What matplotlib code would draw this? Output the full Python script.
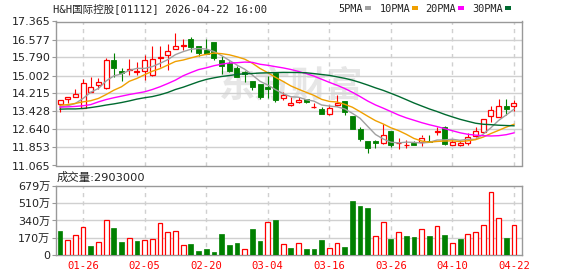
import matplotlib
matplotlib.use('Agg')
import matplotlib.pyplot as plt
from matplotlib.patches import Rectangle
import numpy as np

# ---------------- data ----------------
title = "H&H国际控股[01112] 2026-04-22 16:00"
opens = [13.76, 13.99, 14.05, 13.56, 14.29, 14.58, 14.46, 15.67, 15.19, 15.24,
         15.17, 15.21, 15.02, 15.75, 15.88, 16.16, 16.31, 16.58, 16.30, 16.11,
         16.45, 15.70, 15.57, 15.31, 15.16, 14.78, 14.65, 14.51, 15.13, 14.00,
         13.71, 13.85, 13.99, 13.62, 13.53, 13.31, 13.71, 13.87, 13.22, 12.64,
         12.14, 12.14, 12.04, 12.58, 12.06, 11.97, 12.03, 12.10, 12.13, 12.55,
         12.76, 11.96, 11.98, 12.03, 12.36, 12.54, 13.22, 13.19, 13.67, 13.68]
highs = [13.95, 14.07, 14.43, 14.87, 14.94, 14.90, 15.78, 15.99, 15.35, 15.72,
         15.60, 15.89, 16.30, 16.30, 16.40, 16.84, 16.59, 16.67, 16.30, 16.58,
         16.45, 15.85, 15.63, 15.41, 15.19, 14.78, 14.65, 14.99, 15.13, 14.26,
         14.07, 14.05, 13.99, 13.81, 13.63, 13.73, 14.17, 13.87, 13.22, 12.74,
         12.14, 12.17, 12.90, 12.58, 12.25, 12.17, 12.14, 12.38, 12.42, 12.73,
         12.79, 12.17, 12.13, 12.49, 12.77, 13.12, 13.67, 13.99, 13.99, 13.95]
lows = [13.40, 13.78, 14.05, 13.56, 14.26, 14.40, 14.40, 14.94, 14.75, 15.02,
        15.02, 14.80, 14.99, 15.38, 15.24, 16.16, 16.10, 16.04, 15.86, 15.94,
        15.67, 15.06, 15.16, 14.93, 14.70, 14.36, 13.99, 14.00, 13.85, 13.91,
        13.68, 13.82, 13.79, 13.56, 13.31, 13.27, 13.68, 13.27, 12.66, 12.13,
        11.59, 11.81, 12.01, 11.87, 11.78, 11.81, 11.95, 11.91, 12.10, 12.42,
        11.96, 11.96, 11.92, 11.98, 12.33, 12.49, 12.97, 13.18, 13.27, 13.44]
closes = [13.91, 14.06, 14.20, 14.68, 14.51, 14.73, 15.70, 15.31, 15.10, 15.28,
          15.19, 15.68, 15.71, 15.82, 16.07, 16.30, 16.33, 16.23, 15.98, 15.96,
          15.77, 15.41, 15.21, 14.94, 15.06, 14.49, 14.04, 14.40, 13.94, 14.16,
          13.82, 13.95, 13.85, 13.63, 13.31, 13.59, 13.78, 13.39, 12.66, 12.22,
          11.81, 12.03, 12.41, 11.95, 12.07, 11.98, 11.96, 12.29, 12.10, 12.57,
          12.00, 12.10, 12.07, 12.32, 12.56, 13.12, 13.51, 13.67, 13.53, 13.81]
prev_close = 13.95
volumes_wan = [235, 147, 196, 271, 88, 127, 340, 265, 131, 163,
               137, 147, 157, 310, 225, 232, 95, 108, 42, 59,
               33, 206, 98, 118, 56, 255, 137, 320, 343, 108,
               69, 114, 59, 59, 147, 69, 114, 78, 530, 480,
               461, 183, 320, 157, 225, 186, 176, 252, 186, 281,
               196, 118, 157, 206, 225, 291, 624, 360, 167, 290.3]
last_volume = "2903000"
# moving-average values before each window is full
ma5_head = [13.63, 13.68, 13.78, 14.00]
ma10_head = [13.70, 13.73, 13.78, 13.85, 13.90, 14.00, 14.17, 14.36, 14.51]
ma20_head = [13.62, 13.63, 13.65, 13.68, 13.73, 13.85, 13.95, 14.03, 14.10, 14.17,
             14.23, 14.29, 14.39, 14.51, 14.65, 14.80, 14.99, 15.13, 15.26]
ma30_head = [13.53, 13.54, 13.54, 13.56, 13.60, 13.65, 13.71, 13.76, 13.82, 13.89,
             13.97, 14.03, 14.08, 14.16, 14.26, 14.39, 14.49, 14.61, 14.73, 14.83,
             14.90, 14.96, 15.00, 15.05, 15.08, 15.09, 15.11, 15.12, 15.13]
date_tick_idx = [3, 11, 19, 27, 35, 43, 51, 59]
date_labels = ["01-26", "02-05", "02-20", "03-04", "03-16", "03-26", "04-10", "04-22"]
price_ticks = [11.065, 11.853, 12.640, 13.428, 14.215, 15.002, 15.790, 16.577, 17.365]
price_labels = ["11.065", "11.853", "12.640", "13.428", "14.215", "15.002",
                "15.790", "16.577", "17.365"]
vol_ticks_wan = [0, 170, 340, 510, 679]
vol_labels = ["0", "170万", "340万", "510万", "679万"]
ma_names = ["5PMA", "10PMA", "20PMA", "30PMA"]
ma_periods = [5, 10, 20, 30]

# ---------------- styling ----------------
RED = '#ff0000'
GREEN = '#008000'
MA_COLORS = ['#a0a0a0', '#f0a000', '#ff00ff', '#006a30']
GRID = '#d0d0d0'
FRAME = '#999999'
TXT = '#222222'
CJK = ['DejaVu Sans', 'Noto Sans CJK SC']
MONO = ['DejaVu Sans Mono', 'Noto Sans CJK SC']

W, H = 578, 276
fig = plt.figure(figsize=(W / 100, H / 100), dpi=100)
fig.patch.set_facecolor('white')

def fx(px):
    return px / W

def fy(py):
    return 1 - py / H

ax = fig.add_axes([fx(56), fy(165.5), fx(466), 144 / H])
axv = fig.add_axes([fx(56), fy(255), fx(466), 69 / H])

n = len(closes)
xs = np.arange(n)
xlim = (-0.52, n - 1 + 1.04)

# watermark
ax.text(30.0, 14.55, "东方财富", fontsize=26, fontweight='bold', color='#e6e6e6',
        family=['Noto Sans CJK SC'], ha='center', va='center', zorder=0)

# candles
bw = 0.65
for i in range(n):
    o, h, l, c = opens[i], highs[i], lows[i], closes[i]
    up = c >= o
    col = RED if up else GREEN
    lo_b, hi_b = min(o, c), max(o, c)
    ax.plot([i, i], [l, lo_b], color=col, lw=0.8, zorder=3, solid_capstyle='butt')
    ax.plot([i, i], [hi_b, h], color=col, lw=0.8, zorder=3, solid_capstyle='butt')
    hgt = max(hi_b - lo_b, 0.005)
    if up:
        ax.add_patch(Rectangle((i - bw / 2, lo_b), bw, hgt, facecolor='white',
                               edgecolor=col, lw=0.9, zorder=4))
    else:
        ax.add_patch(Rectangle((i - bw / 2, lo_b), bw, hgt, facecolor=col,
                               edgecolor=col, lw=0.6, zorder=4))

# moving averages
cl = np.array(closes)
heads = [ma5_head, ma10_head, ma20_head, ma30_head]
for per, head, col in zip(ma_periods, heads, MA_COLORS):
    vals = []
    for i in range(n):
        if i < per - 1:
            vals.append(head[i])
        else:
            vals.append(cl[i - per + 1:i + 1].mean())
    ax.plot(xs, vals, color=col, lw=1.0, zorder=5)

ax.set_xlim(*xlim)
ax.set_ylim(price_ticks[0], price_ticks[-1])
ax.set_yticks(price_ticks)
ax.set_yticklabels(price_labels)
ax.set_xticks([])
for yv in price_ticks[1:-1]:
    ax.axhline(yv, color=GRID, lw=1.0, zorder=1)
for xi in date_tick_idx:
    ax.axvline(xi, color=GRID, lw=1.0, ls=(0, (3, 3)), zorder=1)

# volume
vol_colors = []
pc = prev_close
for i in range(n):
    vol_colors.append(RED if closes[i] >= pc else GREEN)
    pc = closes[i]
vb = 0.62
for i in range(n):
    v = volumes_wan[i] * 1e4
    if vol_colors[i] == RED:
        axv.add_patch(Rectangle((i - vb / 2, 0), vb, v, facecolor='white',
                                edgecolor=RED, lw=0.9, zorder=3))
    else:
        axv.add_patch(Rectangle((i - vb / 2, 0), vb, v, facecolor=GREEN,
                                edgecolor=GREEN, lw=0.5, zorder=3))
axv.set_xlim(*xlim)
axv.set_ylim(0, vol_ticks_wan[-1] * 1e4)
axv.set_yticks([t * 1e4 for t in vol_ticks_wan])
axv.set_yticklabels(vol_labels)
for t in vol_ticks_wan[1:-1]:
    axv.axhline(t * 1e4, color=GRID, lw=1.0, zorder=1)
for xi in date_tick_idx:
    axv.axvline(xi, color=GRID, lw=1.0, ls=(0, (3, 3)), zorder=1)
axv.set_xticks(date_tick_idx)
axv.set_xticklabels(date_labels)

for a in (ax, axv):
    for s in a.spines.values():
        s.set_color(FRAME)
        s.set_linewidth(1.0)
    a.tick_params(axis='y', length=3, width=0.8, color=FRAME, pad=1,
                  labelsize=8, labelcolor=TXT)
    for lab in a.get_yticklabels():
        lab.set_family(CJK)
axv.tick_params(axis='x', length=0, pad=4, labelsize=7.6, labelcolor=RED)
for lab in axv.get_xticklabels():
    lab.set_family(MONO)

# title and legend
fig.text(fx(53), fy(8.5), title, family=MONO, fontsize=7.6, color=TXT,
         ha='left', va='center')
leg_x = [338, 380, 425, 472]
sq_x = [365, 412, 458, 505]
for name, lx, sx, col in zip(ma_names, leg_x, sq_x, MA_COLORS):
    fig.text(fx(lx), fy(8.5), name, family=MONO, fontsize=7.4, color=TXT,
             ha='left', va='center')
    fig.patches.append(Rectangle((fx(sx), fy(10)), fx(6), 3.5 / H,
                                 facecolor=col, edgecolor='none',
                                 transform=fig.transFigure, figure=fig))

fig.text(fx(57), fy(177), "成交量:" + last_volume, family=CJK, fontsize=8.2,
         color=TXT, ha='left', va='center')

fig.savefig('out.png', dpi=100, facecolor='white')
